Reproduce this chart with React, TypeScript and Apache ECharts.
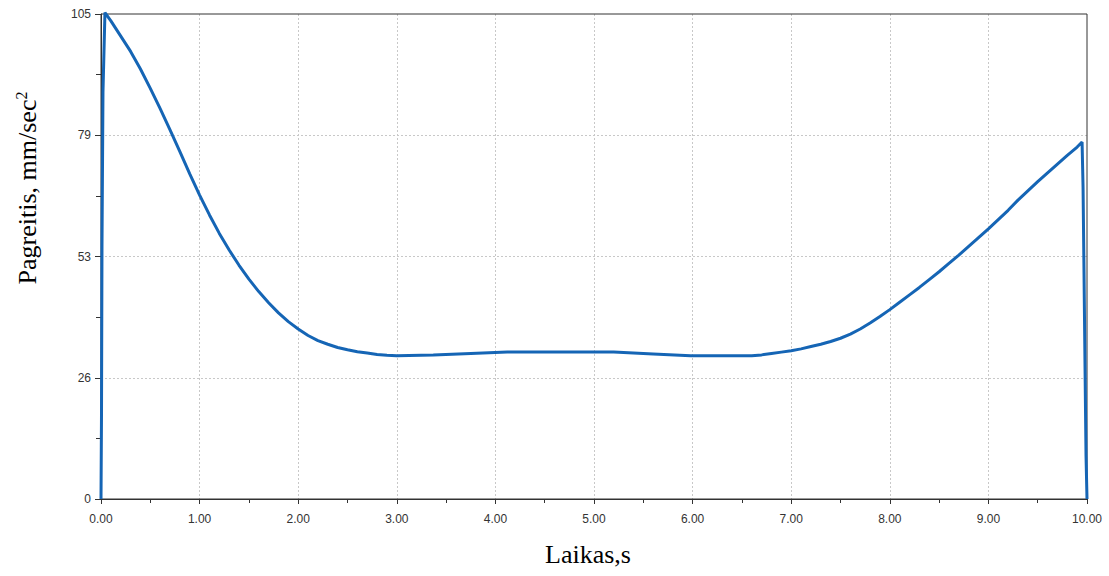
import React, { useEffect, useRef } from "react";
import * as echarts from "echarts";

const times = [
  0, 0.005, 0.01, 0.02, 0.04,
  0.1, 0.2, 0.3, 0.4, 0.5, 0.6, 0.7, 0.8, 0.9, 1.0,
  1.1, 1.2, 1.3, 1.4, 1.5, 1.6, 1.7, 1.8, 1.9, 2.0,
  2.1, 2.2, 2.3, 2.4, 2.5, 2.6, 2.7, 2.8, 2.9, 3.0,
  3.37, 3.75, 4.12, 4.6, 5.2, 5.6, 5.98, 6.3, 6.6,
  6.7, 6.8, 6.9, 7.0, 7.1, 7.2, 7.3, 7.4, 7.5, 7.6,
  7.7, 7.8, 7.9, 8.0, 8.1, 8.2, 8.3, 8.4, 8.5, 8.6,
  8.7, 8.8, 8.9, 9.0, 9.1, 9.2, 9.3, 9.4, 9.5, 9.6,
  9.7, 9.8, 9.9, 9.95, 9.96, 9.97, 9.98, 9.99, 10.0,
];
const accel = [
  0, 18, 55, 88, 105.3,
  103.5, 100.2, 96.9, 93.1, 88.9, 84.5, 79.9, 75.2, 70.4, 65.8,
  61.5, 57.5, 53.9, 50.6, 47.6, 44.9, 42.5, 40.3, 38.4, 36.8,
  35.4, 34.3, 33.5, 32.8, 32.3, 31.9, 31.6, 31.3, 31.1, 31.0,
  31.2, 31.5, 31.8, 31.8, 31.8, 31.4, 31.0, 31.0, 31.0,
  31.2, 31.5, 31.8, 32.1, 32.5, 33.0, 33.5, 34.1, 34.8, 35.7,
  36.8, 38.1, 39.5, 41.0, 42.6, 44.2, 45.8, 47.5, 49.2, 51.0,
  52.8, 54.7, 56.6, 58.5, 60.5, 62.5, 64.7, 66.7, 68.7, 70.6,
  72.5, 74.4, 76.2, 77.3, 67.5, 48.5, 28.6, 9.5, 0,
];
const xTickLabels = ["0.00", "1.00", "2.00", "3.00", "4.00", "5.00", "6.00", "7.00", "8.00", "9.00", "10.00"];
const yTickValues = [0, 26.25, 52.5, 78.75, 105];
const yTickLabels = ["0", "26", "53", "79", "105"];

export default function App() {
  const ref = useRef<HTMLDivElement>(null);
  useEffect(() => {
    if (!ref.current) return;
    const chart = echarts.init(ref.current, undefined, { renderer: "svg" });
    const data = times.map((t, i) => [t, accel[i]]);
    const serif = '"Liberation Serif", "Times New Roman", serif';
    chart.setOption({
      animation: false,
      backgroundColor: "#ffffff",
      grid: {
        left: 101,
        right: 22,
        top: 14,
        bottom: 77,
        show: true,
        borderColor: "#333333",
        borderWidth: 1,
        backgroundColor: "transparent",
        z: 3,
      },
      xAxis: {
        type: "value",
        min: 0,
        max: 10,
        interval: 1,
        axisLine: { show: true, lineStyle: { color: "#333333", width: 1 } },
        axisTick: { show: true, length: 5, lineStyle: { color: "#333333" } },
        minorTick: { show: true, splitNumber: 2, length: 4, lineStyle: { color: "#333333" } },
        axisLabel: {
          color: "#333333",
          fontSize: 12,
          fontFamily: "Liberation Sans, Arial, sans-serif",
          margin: 14,
          formatter: (v: number) => xTickLabels[Math.round(v)] ?? v.toFixed(2),
        },
        splitLine: {
          show: true,
          showMinLine: false,
          showMaxLine: false,
          lineStyle: { color: "#c8c8c8", type: [2, 2], width: 1 },
        },
      },
      yAxis: {
        type: "value",
        min: 0,
        max: 105,
        interval: 26.25,
        axisLine: { show: true, lineStyle: { color: "#333333", width: 1 } },
        axisTick: { show: true, length: 6, lineStyle: { color: "#333333" } },
        minorTick: { show: true, splitNumber: 2, length: 5, lineStyle: { color: "#333333" } },
        axisLabel: {
          color: "#333333",
          fontSize: 12,
          fontFamily: "Liberation Sans, Arial, sans-serif",
          margin: 10,
          formatter: (v: number) => {
            const idx = yTickValues.findIndex((y) => Math.abs(y - v) < 1e-6);
            return idx >= 0 ? yTickLabels[idx] : String(Math.round(v));
          },
        },
        splitLine: {
          show: true,
          showMinLine: false,
          showMaxLine: false,
          lineStyle: { color: "#c8c8c8", type: [2, 2], width: 1 },
        },
      },
      graphic: [
        {
          type: "text",
          x: 588,
          y: 554,
          style: {
            text: "Laikas,s",
            fill: "#000000",
            font: "26px " + serif,
            align: "center",
            verticalAlign: "middle",
          },
        },
        {
          type: "text",
          x: 27,
          y: 188,
          rotation: Math.PI / 2,
          style: {
            text: "{a|Pagreitis, mm/sec}{b|2}",
            fill: "#000000",
            align: "center",
            verticalAlign: "middle",
            rich: {
              a: { fontSize: 26, fontFamily: serif, fill: "#000" },
              b: { fontSize: 16, fontFamily: serif, fill: "#000", verticalAlign: "top", padding: [0, 0, 12, 0] },
            },
          },
        },
      ],
      series: [
        {
          type: "line",
          data,
          showSymbol: false,
          symbol: "none",
          lineStyle: { color: "#1565b5", width: 3 },
          clip: false,
          z: 4,
        },
      ],
    });
    return () => chart.dispose();
  }, []);
  return <div ref={ref} style={{ width: 1109, height: 576, position: "absolute", left: 0, top: 0 }} />;
}
